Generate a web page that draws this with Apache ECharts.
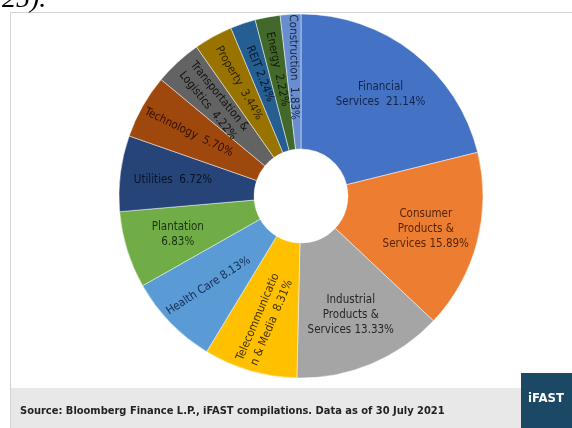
<!DOCTYPE html>
<html>
<head>
<meta charset="utf-8">
<script src="https://cdn.jsdelivr.net/npm/echarts@6/dist/echarts.min.js"></script>
<style>
  html, body { margin: 0; padding: 0; background: #fff; }
  #chart { width: 572px; height: 428px; }
</style>
</head>
<body>
<div id="chart"></div>
<script>
// sector weights, FBM KLCI style breakdown (clockwise from 12 o'clock)
const sectors = ['Financial Services', 'Consumer Products & Services', 'Industrial Products & Services',
  'Telecommunication & Media', 'Health Care', 'Plantation', 'Utilities', 'Technology',
  'Transportation & Logistics', 'Property', 'REIT', 'Energy', 'Construction'];
const weights = [21.14, 15.89, 13.33, 8.31, 8.13, 6.83, 6.72, 5.70, 4.22, 3.44, 2.24, 2.22, 1.83];
// label text as laid out in the original ({v} = weight)
const labelText = ['Financial\nServices  {v}%', 'Consumer\nProducts &\nServices {v}%',
  'Industrial\nProducts &\nServices {v}%', 'Telecommunicatio\nn & Media  {v}%',
  'Health Care {v}%', 'Plantation\n{v}%', 'Utilities  {v}%', 'Technology  {v}%',
  'Transportation &\nLogistics  {v}%', 'Property  {v}%', 'REIT {v}%', 'Energy  {v}%',
  'Construction  {v}%'];

const sliceColors = ['#4472C4', '#ED7D31', '#A5A5A5', '#FFC000', '#5B9BD5', '#70AD47', '#264478',
  '#9E480E', '#636363', '#997300', '#255E91', '#43682B', '#698ED0'];
const textColors = ['#16244a', '#552508', '#262626', '#453300', '#122c52', '#1a300e', '#08142a',
  '#330f00', '#111111', '#2a1f00', '#08182e', '#101b07', '#152545'];
const labelRotate = [0, 0, 0, 67, 33, 0, 0, -26, -51, -60, -69, -78, -89];

const chart = echarts.init(document.getElementById('chart'));

const center = [301, 196];
const font = '"DejaVu Sans Condensed", "DejaVu Sans", sans-serif';

const sliceData = sectors.map((name, i) => ({
  name: name,
  value: weights[i],
  itemStyle: { color: sliceColors[i] }
}));

const labelData = sectors.map((name, i) => ({
  name: name,
  value: weights[i],
  label: {
    rotate: labelRotate[i],
    color: textColors[i],
    formatter: labelText[i].replace('{v}', weights[i].toFixed(2))
  }
}));

const option = {
  backgroundColor: '#fff',
  animation: false,
  graphic: [
    // outer frame of the image
    {
      type: 'rect', z: -10,
      shape: { x: 10.5, y: 12.5, width: 600, height: 500 },
      style: { fill: '#fff', stroke: '#d4d4d4', lineWidth: 1 }
    },
    // source strip
    {
      type: 'rect', z: -5,
      shape: { x: 11, y: 388, width: 510, height: 40 },
      style: { fill: '#e8e8e8' }
    },
    {
      type: 'text', left: 20, top: 406,
      style: {
        text: 'Source: Bloomberg Finance L.P., iFAST compilations. Data as of 30 July 2021',
        font: 'bold 11px ' + font, fill: '#222'
      }
    },
    // logo block
    {
      type: 'rect', z: -5,
      shape: { x: 521, y: 373, width: 51, height: 55 },
      style: { fill: '#1b4965' }
    },
    {
      type: 'text', x: 546, y: 399,
      style: {
        text: 'iFAST', font: 'bold 13px ' + font, fill: '#fff',
        align: 'center', verticalAlign: 'middle'
      }
    },
    // cut-off text from the page above
    {
      type: 'text', x: 2, y: 14,
      style: {
        text: '25).', font: 'italic 28px "Liberation Serif", serif', fill: '#000',
        verticalAlign: 'bottom'
      }
    }
  ],
  series: [
    {
      type: 'pie',
      center: center,
      radius: [47, 182],
      startAngle: 90,
      clockwise: true,
      silent: true,
      label: { show: false },
      labelLine: { show: false },
      itemStyle: { borderColor: 'rgba(255,255,255,0.6)', borderWidth: 0.8 },
      data: sliceData
    },
    {
      // transparent label layer, mid radius 126 like the original labels
      type: 'pie',
      center: center,
      radius: [50, 202],
      startAngle: 90,
      clockwise: true,
      silent: true,
      avoidLabelOverlap: false,
      labelLayout: { hideOverlap: false },
      itemStyle: { color: 'rgba(0,0,0,0)' },
      label: {
        show: true,
        position: 'inside',
        fontFamily: font,
        fontSize: 11.5,
        lineHeight: 15,
        align: 'center'
      },
      labelLine: { show: false },
      data: labelData
    }
  ]
};

chart.setOption(option);
</script>
</body>
</html>
